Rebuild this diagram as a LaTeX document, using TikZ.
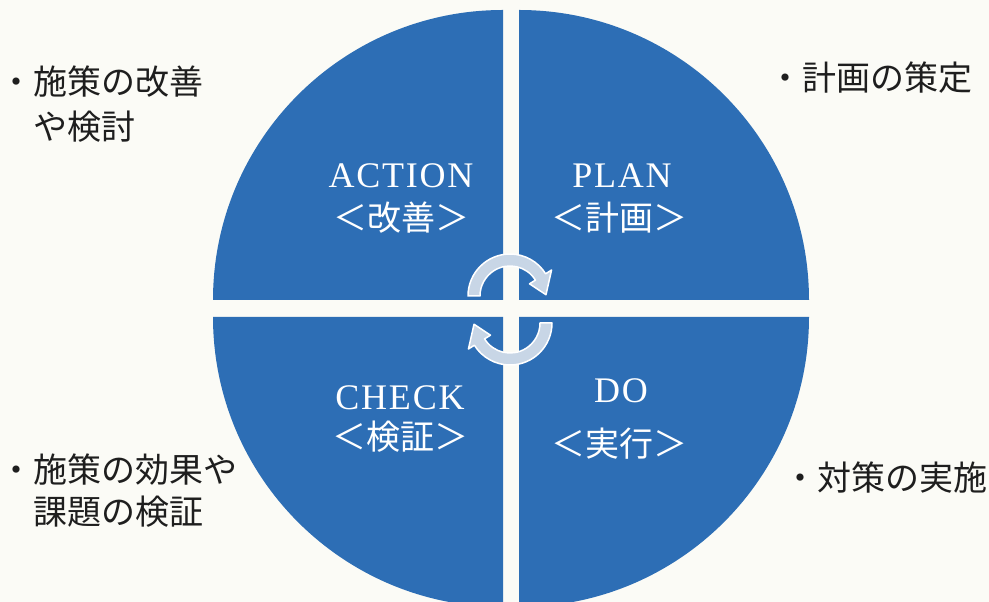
\documentclass[tikz,border=0pt]{standalone}
\usepackage{fontspec}
\setmainfont{Liberation Serif}
\newfontfamily\jp{Noto Sans CJK JP}
\usetikzlibrary{calc}
\definecolor{bg}{RGB}{251,251,246}
\definecolor{pdcablue}{RGB}{45,110,181}
\definecolor{arrowfill}{RGB}{200,214,230}
\definecolor{ink}{RGB}{30,30,30}
\begin{document}
\begin{tikzpicture}[x=1pt,y=1pt,
  quad/.style={fill=pdcablue},
  en/.style={font=\fontsize{36}{40}\selectfont\addfontfeatures{LetterSpace=5}, text=white, anchor=base, inner sep=0},
  ja/.style={font=\jp\fontsize{34}{38}\selectfont, text=white, inner sep=0},
  outer/.style={font=\jp\fontsize{34}{38}\selectfont, text=ink, anchor=west, inner sep=0},
  cyc/.style={fill=arrowfill, draw=white, line width=1.5pt, line join=round}]
\fill[bg] (0,0) rectangle (989,602);
\useasboundingbox (0,0) rectangle (989,602);
\clip (0,0) rectangle (989,602);
% quadrants
\coordinate (ul) at (503,302);
\coordinate (ur) at (519,302);
\coordinate (ll) at (503,285);
\coordinate (lr) at (519,285);
\fill[quad] (ul) -- ++(-290,0) arc[start angle=180,end angle=90,radius=290] -- cycle;
\fill[quad] (ur) -- ++(0,290) arc[start angle=90,end angle=0,radius=290] -- cycle;
\fill[quad] (lr) -- ++(290,0) arc[start angle=0,end angle=-90,radius=290] -- cycle;
\fill[quad] (ll) -- ++(0,-290) arc[start angle=-90,end angle=-180,radius=290] -- cycle;
% cycle arrows
\coordinate (c1) at (510,306);
\coordinate (c2) at (510,279);
\path[cyc] ($(c1)+(180:42)$) arc[start angle=180,end angle=32,radius=42]
  -- ($(c1)+(32:49)$) -- ($(c1)+(2:36)$) -- ($(c1)+(32:23)$) -- ($(c1)+(32:30)$)
  arc[start angle=32,end angle=180,radius=30] -- cycle;
\path[cyc] ($(c2)+(0:42)$) arc[start angle=0,end angle=-148,radius=42]
  -- ($(c2)+(-148:49)$) -- ($(c2)+(-178:36)$) -- ($(c2)+(-148:23)$) -- ($(c2)+(-148:30)$)
  arc[start angle=-148,end angle=0,radius=30] -- cycle;
% quadrant labels
\node[en] (action) at (401,414) {ACTION};
\node[ja] (actionj) at (401,384) {＜改善＞};
\node[en] (plan) at (622,414) {PLAN};
\node[ja] (planj) at (619,384) {＜計画＞};
\node[en] (check) at (400,192) {CHECK};
\node[ja] (checkj) at (400,165) {＜検証＞};
\node[en] (do) at (621,199) {DO};
\node[ja] (doj) at (619,158) {＜実行＞};
% outer notes
\node[outer] (a1) at (-1,520) {・施策の改善};
\node[outer] (a2) at (33,475) {や検討};
\node[outer] (p1) at (768,524) {・計画の策定};
\node[outer] (c1t) at (-1,132) {・施策の効果や};
\node[outer] (c2t) at (33,90) {課題の検証};
\node[outer] (d1) at (783,124) {・対策の実施};
\end{tikzpicture}
\end{document}
